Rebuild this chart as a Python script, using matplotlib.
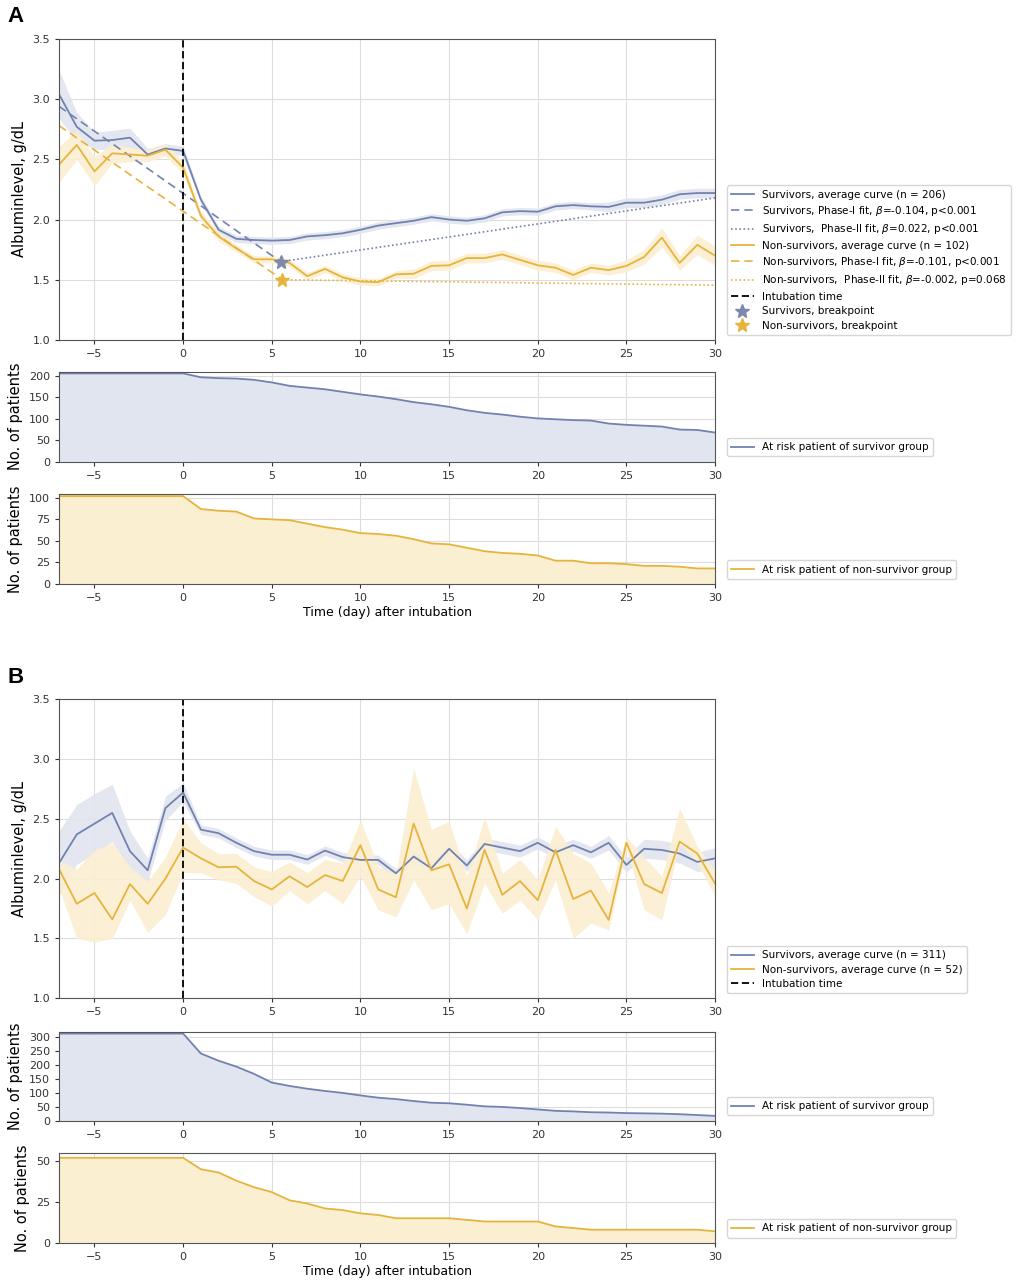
import numpy as np
import matplotlib
matplotlib.use("Agg")
import matplotlib.pyplot as plt

# ---- datos ----
days = list(range(-7, 31))

# Panel A
surv_a = [3.04, 2.77, 2.655, 2.66, 2.68, 2.54, 2.59, 2.57, 2.165, 1.915, 1.84, 1.83, 1.825, 1.83,
          1.86, 1.87, 1.886, 1.915, 1.95, 1.97, 1.99, 2.02, 2.0, 1.99, 2.01, 2.06, 2.07, 2.065,
          2.11, 2.12, 2.11, 2.105, 2.14, 2.14, 2.165, 2.21, 2.22, 2.22]
surv_a_ci = [0.2, 0.12, 0.07, 0.08, 0.08, 0.05, 0.04, 0.04, 0.03, 0.03, 0.03, 0.03, 0.03, 0.03,
             0.03, 0.03, 0.03, 0.03, 0.03, 0.03, 0.03, 0.03, 0.03, 0.03, 0.03, 0.03, 0.03, 0.03,
             0.03, 0.03, 0.03, 0.04, 0.04, 0.04, 0.04, 0.04, 0.04, 0.04]
non_a = [2.456, 2.62, 2.40, 2.55, 2.54, 2.53, 2.58, 2.43, 2.03, 1.86, 1.76, 1.67, 1.67, 1.64,
         1.53, 1.59, 1.52, 1.485, 1.48, 1.545, 1.55, 1.615, 1.62, 1.68, 1.68, 1.71, 1.665, 1.62,
         1.60, 1.54, 1.60, 1.58, 1.615, 1.69, 1.85, 1.64, 1.79, 1.70]
non_a_ci = [0.15, 0.12, 0.12, 0.08, 0.06, 0.05, 0.05, 0.05, 0.04, 0.04, 0.03, 0.03, 0.03, 0.03,
            0.03, 0.03, 0.03, 0.03, 0.03, 0.03, 0.04, 0.04, 0.04, 0.04, 0.04, 0.04, 0.04, 0.04,
            0.04, 0.04, 0.04, 0.04, 0.05, 0.06, 0.08, 0.06, 0.08, 0.08]

# ajustes por tramos (inicio, breakpoint, final)
fit_x = [-7, 5.5, 30]
surv_fit = [2.94, 1.65, 2.18]
non_fit_x = [-7, 5.6, 30]
non_fit = [2.78, 1.50, 1.455]

risk_surv_a = [206] * 8 + [197, 195, 194, 191, 185, 177, 173, 169, 163, 157, 152, 146, 139, 134,
                           128, 120, 114, 110, 105, 101, 99, 97, 96, 89, 86, 84, 82, 75, 74, 68]
risk_non_a = [102] * 8 + [87, 85, 84, 76, 75, 74, 70, 66, 63, 59, 58, 56, 52, 47, 46, 42, 38,
                          36, 35, 33, 27, 27, 24, 24, 23, 21, 21, 20, 18, 18]

# Panel B
surv_b = [2.13, 2.37, 2.46, 2.55, 2.23, 2.07, 2.59, 2.72, 2.41, 2.38, 2.30, 2.23, 2.20, 2.20,
          2.16, 2.235, 2.18, 2.157, 2.157, 2.045, 2.185, 2.087, 2.25, 2.11, 2.29, 2.26, 2.23,
          2.30, 2.22, 2.28, 2.22, 2.30, 2.115, 2.25, 2.24, 2.21, 2.14, 2.17]
surv_b_ci = [0.27, 0.25, 0.25, 0.24, 0.17, 0.1, 0.1, 0.08, 0.04, 0.04, 0.04, 0.04, 0.04, 0.04,
             0.04, 0.04, 0.04, 0.04, 0.04, 0.04, 0.05, 0.05, 0.05, 0.05, 0.05, 0.05, 0.05, 0.05,
             0.05, 0.05, 0.05, 0.06, 0.06, 0.08, 0.08, 0.08, 0.08, 0.09]
non_b = [2.08, 1.79, 1.88, 1.66, 1.955, 1.79, 2.0, 2.26, 2.17, 2.095, 2.10, 1.98, 1.91, 2.02,
         1.93, 2.03, 1.98, 2.28, 1.91, 1.845, 2.46, 2.07, 2.12, 1.75, 2.24, 1.865, 1.98, 1.82,
         2.24, 1.83, 1.90, 1.655, 2.30, 1.955, 1.88, 2.31, 2.21, 1.96]
non_b_lo = [1.92, 1.50, 1.47, 1.50, 1.82, 1.55, 1.70, 2.05, 2.05, 1.99, 1.96, 1.85, 1.77, 1.90,
            1.79, 1.90, 1.79, 2.02, 1.74, 1.68, 1.99, 1.74, 1.79, 1.54, 1.96, 1.71, 1.82, 1.655,
            1.99, 1.50, 1.63, 1.57, 2.25, 1.74, 1.655, 2.30, 2.13, 1.85]
non_b_hi = [2.15, 2.08, 2.24, 2.30, 2.10, 1.98, 2.18, 2.50, 2.30, 2.21, 2.21, 2.10, 2.06, 2.14,
            2.05, 2.16, 2.13, 2.49, 2.10, 2.045, 2.92, 2.41, 2.48, 2.02, 2.52, 2.045, 2.16, 1.99,
            2.44, 2.21, 2.13, 1.88, 2.35, 2.18, 2.02, 2.59, 2.27, 2.07]

risk_surv_b = [311] * 8 + [240, 214, 193, 167, 136, 124, 114, 106, 99, 90, 82, 77, 70, 64, 62,
                           57, 51, 49, 45, 40, 35, 33, 30, 29, 27, 26, 25, 23, 20, 17]
risk_non_b = [52] * 8 + [45, 43, 38, 34, 31, 26, 24, 21, 20, 18, 17, 15, 15, 15, 15, 14, 13, 13,
                         13, 13, 10, 9, 8, 8, 8, 8, 8, 8, 8, 7]

BLUE = "#7282b0"
YELLOW = "#e6b43c"
BLUE_FILL = "#e1e5ef"
YELLOW_FILL = "#fbefd2"

plt.rcParams["font.family"] = "DejaVu Sans"
plt.rcParams["axes.edgecolor"] = "#555555"
plt.rcParams["xtick.color"] = "#333333"
plt.rcParams["ytick.color"] = "#333333"

fig = plt.figure(figsize=(10.16, 12.8), dpi=100)
L, W = 0.0581, 0.6457

x = np.array(days)


def style(ax, ylim, yticks):
    ax.set_xlim(-7, 30)
    ax.set_ylim(*ylim)
    ax.set_yticks(yticks)
    ax.set_xticks([-5, 0, 5, 10, 15, 20, 25, 30])
    ax.grid(color="#dddddd", linewidth=0.8)
    ax.set_axisbelow(True)
    ax.tick_params(labelsize=8, length=3)


def legend(ax):
    ax.legend(loc="lower left", bbox_to_anchor=(1.01, 0), fontsize=7.5, frameon=True,
              edgecolor="#cccccc", handlelength=2.2, labelspacing=0.42)


def main_panel(rect, s, s_lo, s_hi, n, n_lo, n_hi, n_s, n_n, fits):
    ax = fig.add_axes(rect)
    ax.fill_between(x, s_lo, s_hi, color=BLUE_FILL, alpha=0.9, lw=0)
    ax.fill_between(x, n_lo, n_hi, color=YELLOW_FILL, alpha=0.9, lw=0)
    ax.plot(x, s, color=BLUE, lw=1.3, label=f"Survivors, average curve (n = {n_s})")
    if fits:
        ax.plot(fit_x[:2], surv_fit[:2], color=BLUE, lw=1.2, ls=(0, (5, 3)),
                label="Survivors, Phase-I fit, $\\beta$=-0.104, p<0.001")
        ax.plot(fit_x[1:], surv_fit[1:], color=BLUE, lw=1.2, ls=(0, (1, 1.5)),
                label="Survivors,  Phase-II fit, $\\beta$=0.022, p<0.001")
    ax.plot(x, n, color=YELLOW, lw=1.3, label=f"Non-survivors, average curve (n = {n_n})")
    if fits:
        ax.plot(non_fit_x[:2], non_fit[:2], color=YELLOW, lw=1.2, ls=(0, (5, 3)),
                label="Non-survivors, Phase-I fit, $\\beta$=-0.101, p<0.001")
        ax.plot(non_fit_x[1:], non_fit[1:], color=YELLOW, lw=1.2, ls=(0, (1, 1.5)),
                label="Non-survivors,  Phase-II fit, $\\beta$=-0.002, p=0.068")
    ax.axvline(0, color="black", lw=1.3, ls=(0, (4, 2)), label="Intubation time")
    if fits:
        ax.plot(fit_x[1], surv_fit[1], "*", color="#7d88aa", ms=10, ls="none",
                label="Survivors, breakpoint")
        ax.plot(non_fit_x[1], non_fit[1], "*", color=YELLOW, ms=10, ls="none",
                label="Non-survivors, breakpoint")
    style(ax, (1.0, 3.5), [1.0, 1.5, 2.0, 2.5, 3.0, 3.5])
    ax.set_ylabel("Albuminlevel, g/dL", fontsize=10.5)
    legend(ax)
    return ax


def risk_panel(rect, vals, color, fill, label, ylim, yticks, xlabel=False):
    ax = fig.add_axes(rect)
    ax.fill_between(x, 0, vals, color=fill, lw=0)
    ax.plot(x, vals, color=color, lw=1.3, label=label)
    style(ax, ylim, yticks)
    ax.set_ylabel("No. of patients", fontsize=10.5)
    if xlabel:
        ax.set_xlabel("Time (day) after intubation", fontsize=9, labelpad=2)
    legend(ax)
    return ax


# ---- Panel A ----
sa, sca = np.array(surv_a), np.array(surv_a_ci)
na, nca = np.array(non_a), np.array(non_a_ci)
main_panel([L, 0.7344, W, 0.2352], sa, sa - sca, sa + sca, na, na - nca, na + nca,
           206, 102, True)
risk_panel([L, 0.6393, W, 0.0703], risk_surv_a, BLUE, BLUE_FILL,
           "At risk patient of survivor group", (0, 210), [0, 50, 100, 150, 200])
risk_panel([L, 0.5438, W, 0.0703], risk_non_a, YELLOW, YELLOW_FILL,
           "At risk patient of non-survivor group", (0, 104.5), [0, 25, 50, 75, 100], True)

# ---- Panel B ----
sb, scb = np.array(surv_b), np.array(surv_b_ci)
main_panel([L, 0.2201, W, 0.2336], sb, sb - scb, sb + scb, np.array(non_b),
           non_b_lo, non_b_hi, 311, 52, False)
risk_panel([L, 0.1245, W, 0.0691], risk_surv_b, BLUE, BLUE_FILL,
           "At risk patient of survivor group", (0, 316), [0, 50, 100, 150, 200, 250, 300])
risk_panel([L, 0.0291, W, 0.0698], risk_non_b, YELLOW, YELLOW_FILL,
           "At risk patient of non-survivor group", (0, 54.7), [0, 25, 50], True)

fig.text(0.007, 0.995, "A", fontsize=16, fontweight="bold", family="Liberation Sans", va="top")
fig.text(0.007, 0.479, "B", fontsize=16, fontweight="bold", family="Liberation Sans", va="top")

fig.savefig("out.png", dpi=100)
